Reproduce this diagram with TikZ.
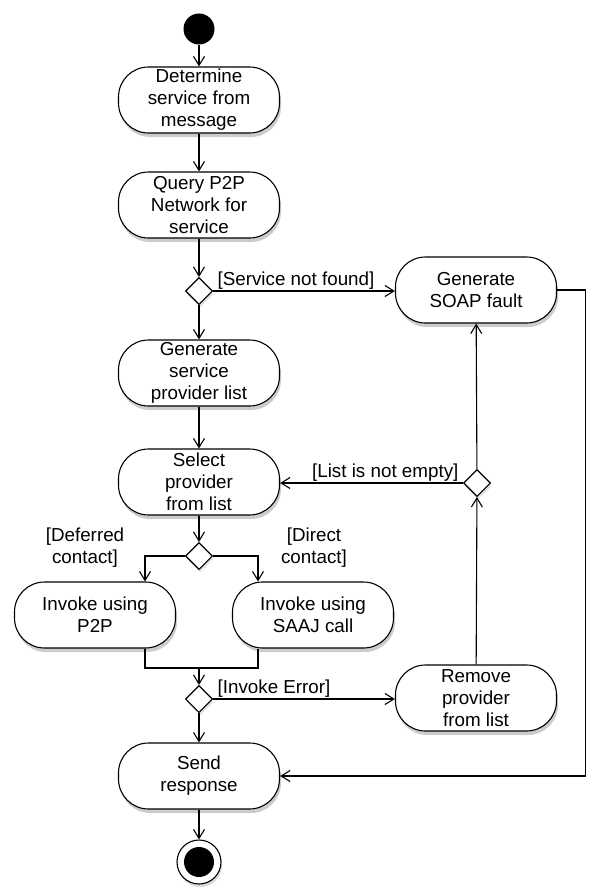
\documentclass[tikz,border=0pt]{standalone}
\usepackage{fontspec}
\setmainfont{Liberation Sans}
\usetikzlibrary{shapes.geometric,shadows,arrows.meta}

\begin{document}
\begin{tikzpicture}[x=1pt,y=-1pt,
  >={Straight Barb[length=9pt,width=11pt]},
  line width=1.1pt,
  every node/.style={font=\fontsize{18.8}{22}\selectfont},
  action/.style={draw,fill=white,rounded corners=30pt,minimum width=161pt,
    minimum height=66pt,align=center,inner sep=1.5pt,
    drop shadow={opacity=0.4,shadow xshift=1.5pt,shadow yshift=-4pt}},
  decision/.style={draw,fill=white,diamond,minimum size=27pt,inner sep=0pt,
    drop shadow={opacity=0.25,shadow xshift=1pt,shadow yshift=-3pt}},
  guard/.style={inner sep=1pt,align=center}]

  \useasboundingbox (0,0) rectangle (590,888);

  \node[circle,fill=black,minimum size=31pt,inner sep=0pt] (start) at (199,29) {};
  \node[action] (determine) at (199,100) {Determine\\service from\\message};
  \node[action] (query) at (199,205) {Query P2P\\Network for\\service};
  \node[decision] (d1) at (199,291) {};
  \node[action] (fault) at (476,290) {Generate\\SOAP fault};
  \node[action] (plist) at (199,373) {Generate\\service\\provider list};
  \node[action] (select) at (199,482) {Select\\provider\\from list};
  \node[decision] (d2) at (199,556) {};
  \node[action] (p2p) at (95,615) {Invoke using\\P2P};
  \node[action] (saaj) at (313,615) {Invoke using\\SAAJ call};
  \coordinate (join) at (199,668);
  \node[decision] (d3) at (199,699) {};
  \node[decision] (d4) at (477,483) {};
  \node[action] (remove) at (476,698) {Remove\\provider\\from list};
  \node[action] (send) at (199,776) {Send\\response};
  \node[circle,draw,fill=white,minimum size=44pt,inner sep=0pt,
    drop shadow={opacity=0.3,shadow xshift=1pt,shadow yshift=-3pt},
    path picture={\fill[black] (path picture bounding box.center) circle (15pt);}]
    (stop) at (199,862) {};

  % guards
  \node[guard,anchor=south west] (lnotfound) at ([xshift=3pt]d1.east) {[Service not found]};
  \node[guard,anchor=south east] (lnotempty) at ([xshift=-3pt]d4.west) {[List is not empty]};
  \node[guard] (ldeferred) at (85,548) {[Deferred\\contact]};
  \node[guard] (ldirect) at (314,548) {[Direct\\contact]};
  \node[guard,anchor=south west] (lerror) at ([xshift=3pt]d3.east) {[Invoke Error]};

  \draw[->] (start) -- (determine);
  \draw[->] (determine) -- (query);
  \draw[->] (query) -- (d1);
  \draw[->] (d1) -- (plist);
  \draw[->] (d1.east) -- (d1.east -| fault.west);
  \draw[->] (plist) -- (select);
  \draw[->] (select) -- (d2);
  \draw[->] (d2.west) -| ([xshift=50pt]p2p.north);
  \draw[->] (d2.east) -| ([xshift=-55pt]saaj.north);
  \draw ([xshift=50pt]p2p.south) |- (join) -| ([xshift=-55pt]saaj.south);
  \draw[->] (join) -- (d3);
  \draw[->] (d3) -- (send);
  \draw[->] (d3.east) -- (d3.east -| remove.west);
  \draw[->] (remove) -- (d4);
  \draw[->] (d4) -- (fault);
  \draw[->] (d4.west) -- (d4.west -| select.east);
  \draw[->] (fault.east) -- ++(28,0) |- (send.east);
  \draw[->] (send) -- (stop);

\end{tikzpicture}
\end{document}
